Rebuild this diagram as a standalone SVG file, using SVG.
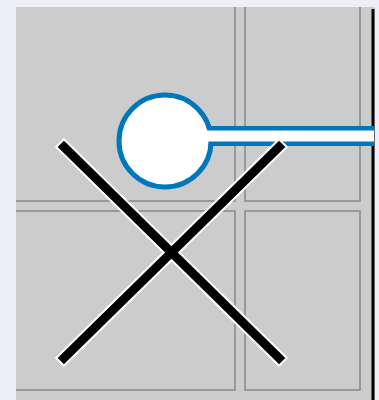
<svg xmlns="http://www.w3.org/2000/svg" width="379" height="400" viewBox="0 0 379 400">
<defs>
<style>
.cell{fill:none;stroke:#888888;stroke-width:1.5}
.halo{stroke:#ffffff;stroke-width:13;stroke-linecap:square}
.bar{stroke:#000000;stroke-width:9;stroke-linecap:square}
</style>
<clipPath id="panel"><rect x="16" y="7" width="359" height="393"/></clipPath>
</defs>
<rect x="0" y="0" width="379" height="400" fill="#eeeef8"/>
<g id="panel-bg">
<rect x="16" y="7" width="359" height="393" fill="#cccccc"/>
</g>
<g id="grid" clip-path="url(#panel)">
<rect class="cell" x="6" y="-5" width="229" height="206"/>
<rect class="cell" x="245" y="-5" width="115" height="206"/>
<rect class="cell" x="6" y="211" width="229" height="179"/>
<rect class="cell" x="245" y="211" width="115" height="179"/>
</g>
<line id="edge" x1="373" y1="9" x2="373" y2="400" stroke="#000" stroke-width="3"/>
<g id="connectors">
<line x1="165" y1="136" x2="374" y2="136" stroke="#0077bb" stroke-width="20"/>
</g>
<g id="pin">
<circle cx="165" cy="141" r="46" fill="#ffffff" stroke="#0077bb" stroke-width="5"/>
<line x1="165" y1="136" x2="374" y2="136" stroke="#ffffff" stroke-width="11"/>
</g>
<g id="cross">
<line class="halo" x1="64" y1="147" x2="279" y2="358"/>
<line class="halo" x1="64" y1="358" x2="279" y2="147"/>
<line class="bar" x1="64" y1="147" x2="279" y2="358"/>
<line class="bar" x1="64" y1="358" x2="279" y2="147"/>
</g>
</svg>
